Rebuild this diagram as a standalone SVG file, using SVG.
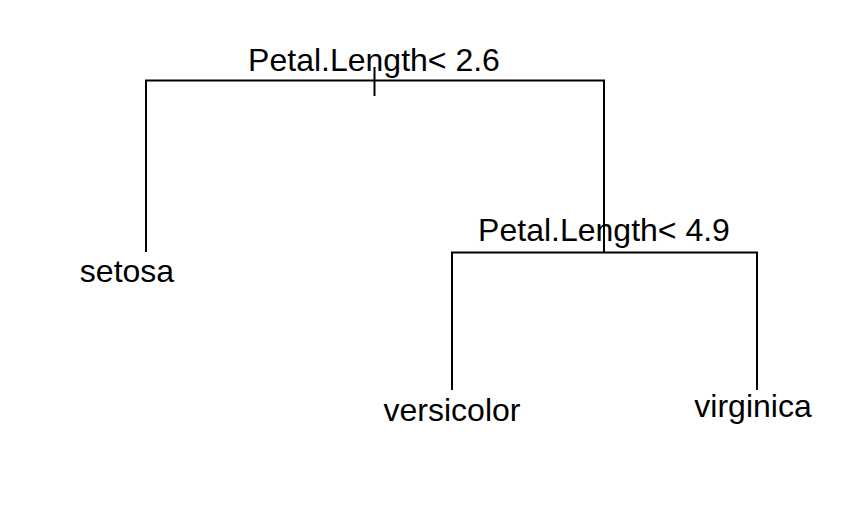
<svg xmlns="http://www.w3.org/2000/svg" width="852" height="532" viewBox="0 0 852 532">
<style>
.e{stroke:#000;stroke-width:2;fill:none}
text{font-family:"Liberation Sans",Arial,sans-serif;font-size:32px;fill:#000;text-anchor:middle}
</style>
<rect width="852" height="532" fill="#fff"/>
<g id="connectors">
<path class="e" d="M146,252V80.5H604V252"/>
<path class="e" d="M374.5,67V96"/>
<path class="e" d="M452,390V252.5H757V390"/>
</g>
<g id="root"><text x="374" y="71">Petal.Length&lt; 2.6</text></g>
<g id="split2"><text x="604" y="241">Petal.Length&lt; 4.9</text></g>
<g id="setosa"><text x="127" y="282">setosa</text></g>
<g id="versicolor"><text x="452" y="421">versicolor</text></g>
<g id="virginica"><text x="753" y="417">virginica</text></g>
</svg>
